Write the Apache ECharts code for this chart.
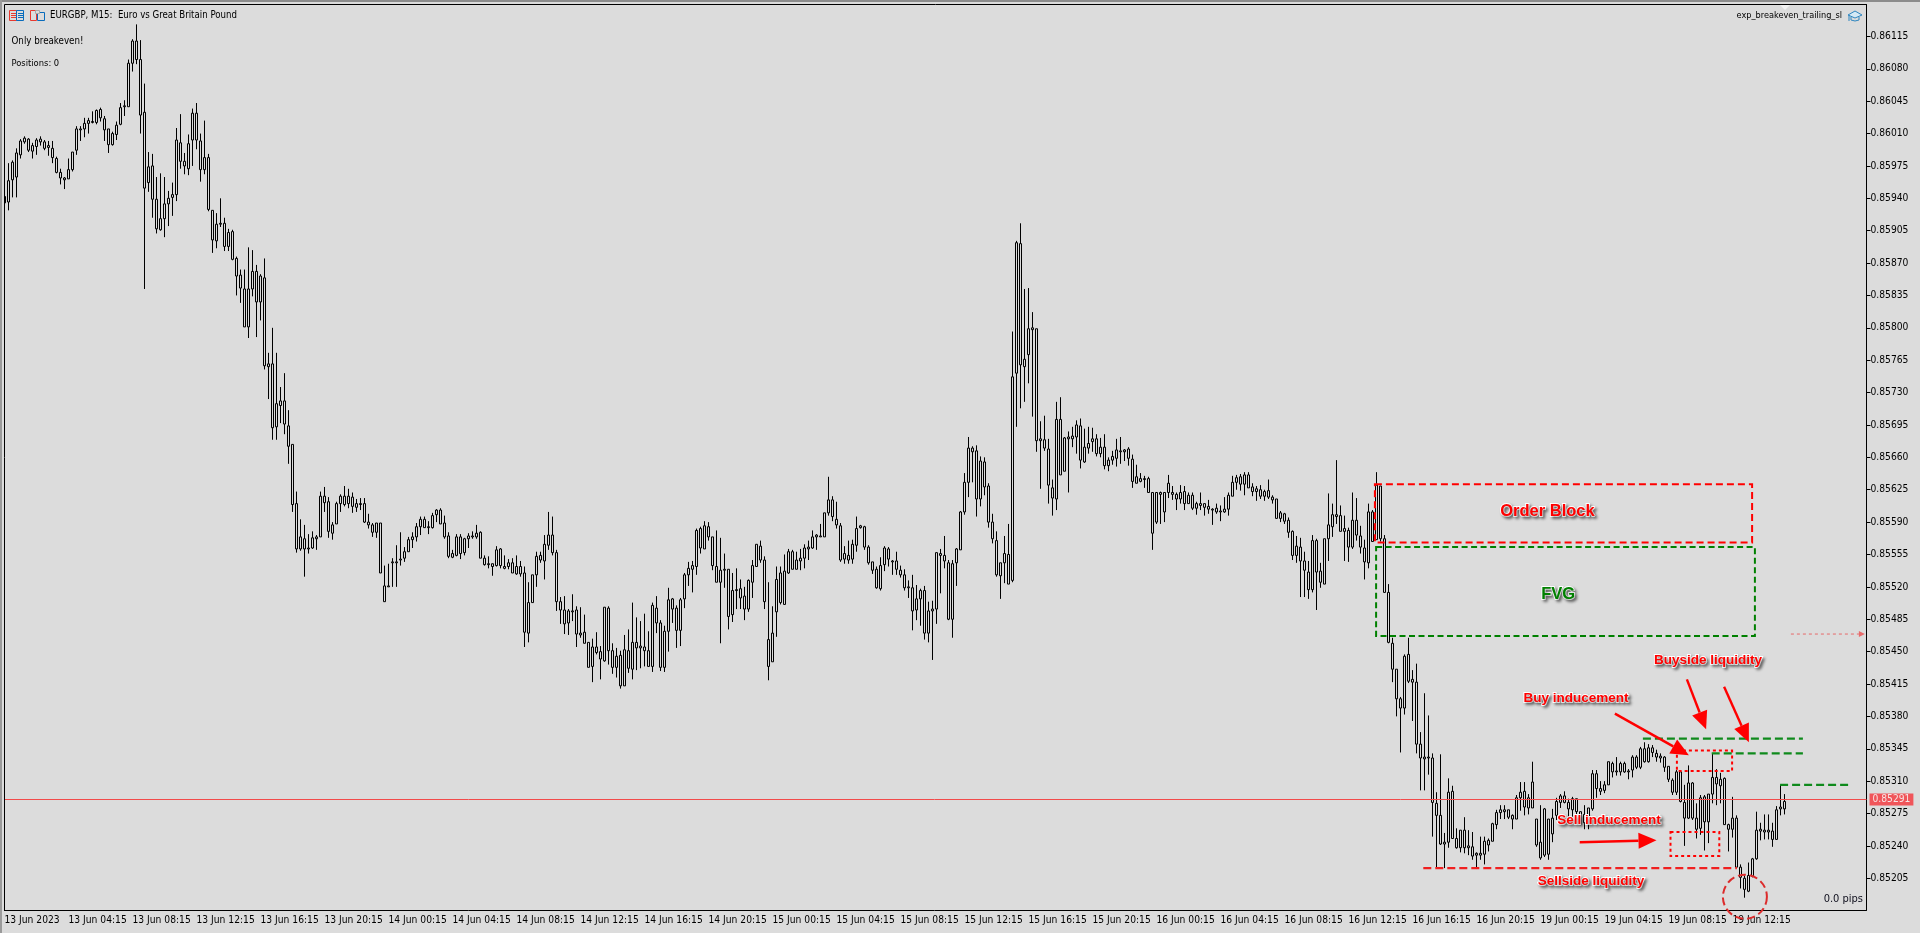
<!DOCTYPE html>
<html>
<head>
<meta charset="utf-8">
<title>EURGBP, M15</title>
<script src="https://cdn.jsdelivr.net/npm/echarts@6/dist/echarts.min.js"></script>
<style>
  html, body { margin: 0; padding: 0; background: #dcdcdc; }
  #chart { width: 1920px; height: 933px; }
</style>
</head>
<body>
<div id="chart"></div>
<script>
// prices are in points (1 point = 0.00001), one row per 16 bars (4 hours)
// every body is hollow in the picture, so only its top and bottom can be read
const highs = [
  85942,85978,85981,85994,86004,86007,86005,86000,86005,86007,86003,86002,86002,85985,85972,85963,
  85983,85990,86018,86018,86027,86027,86034,86036,86038,86029,86015,86012,86023,86043,86046,86090,
  86112,86128,86111,86064,85990,85988,85963,85967,85963,85948,85957,86016,86031,85989,86009,86037,
  86043,86010,86024,85988,85927,85924,85940,85919,85907,85906,85877,85863,85863,85887,85884,85868,
  85858,85875,85773,85800,85773,85736,85751,85711,85674,85623,85593,85587,85577,85580,85576,85623,
  85628,85617,85590,85612,85620,85629,85626,85622,85615,85616,85616,85599,85589,85589,85589,85543,
  85545,85551,85565,85579,85563,85574,85579,85589,85596,85596,85591,85600,85604,85605,85597,85579,
  85560,85577,85577,85573,85578,85580,85587,85580,85554,85553,85545,85564,85562,85554,85550,85551,
  85554,85548,85542,85525,85533,85558,85558,85576,85601,85596,85560,85509,85510,85496,85512,85499,
  85498,85490,85460,85464,85471,85456,85498,85499,85459,85454,85451,85468,85474,85503,85487,85483,
  85491,85472,85503,85510,85484,85478,85519,85508,85500,85508,85535,85547,85548,85583,85585,85591,
  85590,85574,85581,85573,85556,85539,85535,85540,85528,85520,85528,85549,85566,85570,85553,85525,
  85499,85542,85542,85555,85561,85560,85558,85561,85566,85570,85581,85577,85588,85600,85639,85618,
  85612,85589,85564,85570,85571,85596,85587,85586,85565,85547,85542,85552,85564,85563,85549,85558,
  85543,85539,85527,85533,85522,85518,85521,85504,85505,85557,85561,85575,85549,85549,85562,85602,
  85643,85682,85672,85673,85661,85660,85632,85599,85580,85546,85575,85588,85796,85894,85913,85842,
  85843,85817,85799,85699,85705,85680,85636,85720,85725,85682,85688,85693,85700,85702,85691,85693,
  85692,85685,85681,85685,85660,85667,85680,85682,85669,85671,85663,85652,85643,85640,85639,85622,
  85622,85623,85622,85641,85629,85622,85630,85629,85622,85622,85612,85622,85610,85614,85605,85610,
  85608,85617,85622,85640,85641,85642,85644,85644,85632,85629,85630,85625,85636,85619,85615,85602,
  85600,85595,85581,85575,85573,85558,85548,85576,85572,85546,85572,85621,85610,85657,85608,85597,
  85584,85622,85616,85586,85571,85610,85603,85644,85629,85576,85523,85465,85431,85401,85447,85465,
  85430,85437,85363,85405,85381,85340,85298,85339,85254,85313,85305,85259,85257,85271,85257,85255,
  85233,85250,85250,85248,85265,85279,85284,85284,85279,85274,85295,85309,85309,85296,85331,85269,
  85284,85281,85269,85280,85292,85296,85299,85291,85293,85291,85277,85284,85281,85322,85322,85310,
  85310,85331,85331,85336,85331,85331,85323,85338,85338,85347,85352,85350,85349,85344,85340,85337,
  85326,85313,85322,85322,85306,85327,85309,85286,85295,85295,85296,85340,85323,85319,85314,85264,
  85293,85273,85220,85208,85222,85227,85277,85265,85274,85274,85265,85283,85306,85296
];
const bodyHighs = [
  85942,85959,85979,85989,86002,86005,86004,85997,86003,86004,86001,85997,85994,85983,85968,85962,
  85971,85990,86015,86015,86021,86024,86023,86035,86036,86026,86015,86010,86019,86038,86040,86086,
  86110,86110,86090,86033,85974,85975,85939,85918,85934,85940,85944,86003,86000,85980,85999,86032,
  86032,86002,85984,85984,85927,85912,85913,85913,85903,85904,85875,85857,85842,85842,85861,85861,
  85856,85854,85761,85761,85718,85721,85721,85694,85674,85610,85574,85572,85562,85573,85574,85618,
  85618,85612,85587,85610,85618,85618,85618,85617,85610,85610,85610,85590,85587,85589,85589,85521,
  85521,85547,85547,85550,85558,85571,85574,85585,85593,85593,85585,85597,85603,85603,85589,85575,
  85556,85574,85574,85572,85575,85575,85578,85579,85551,85545,85545,85560,85561,85542,85546,85546,
  85542,85542,85535,85503,85533,85553,85554,85566,85576,85576,85557,85504,85495,85494,85494,85495,
  85470,85471,85460,85455,85455,85450,85498,85497,85451,85445,85446,85452,85451,85460,85460,85456,
  85455,85451,85500,85497,85481,85472,85506,85507,85497,85506,85533,85540,85543,85581,85583,85586,
  85585,85574,85542,85538,85539,85539,85516,85517,85518,85510,85527,85543,85566,85564,85549,85463,
  85470,85528,85535,85537,85558,85558,85549,85551,85562,85563,85574,85576,85575,85600,85614,85614,
  85593,85586,85556,85554,85566,85583,85586,85585,85563,85547,85539,85543,85562,85561,85548,85548,
  85538,85533,85520,85519,85507,85516,85516,85494,85496,85557,85556,85554,85546,85545,85561,85601,
  85633,85670,85670,85667,85656,85655,85629,85590,85570,85546,85556,85555,85747,85892,85891,85766,
  85799,85800,85799,85680,85679,85669,85627,85701,85701,85681,85682,85683,85695,85694,85671,85675,
  85680,85680,85671,85671,85657,85661,85668,85667,85668,85669,85658,85639,85637,85637,85637,85622,
  85622,85622,85622,85632,85622,85620,85622,85623,85619,85619,85610,85610,85610,85607,85604,85605,
  85602,85604,85619,85633,85638,85639,85641,85641,85628,85626,85625,85623,85624,85617,85615,85600,
  85599,85592,85580,85564,85563,85548,85536,85570,85570,85537,85572,85587,85598,85598,85597,85583,
  85581,85592,85592,85575,85562,85601,85601,85630,85629,85572,85514,85459,85431,85399,85445,85447,
  85420,85417,85350,85336,85336,85335,85286,85273,85244,85298,85299,85248,85257,85257,85240,85239,
  85232,85232,85245,85246,85264,85276,85279,85279,85279,85273,85292,85298,85299,85292,85309,85269,
  85244,85280,85269,85270,85288,85294,85294,85287,85291,85291,85277,85274,85281,85318,85318,85302,
  85306,85331,85329,85321,85329,85329,85321,85336,85336,85345,85345,85346,85346,85340,85337,85336,
  85326,85311,85320,85320,85287,85308,85308,85270,85292,85293,85296,85314,85314,85312,85313,85263,
  85270,85270,85217,85205,85208,85226,85257,85258,85257,85257,85256,85279,85282,85288
];
const bodyLows = [
  85935,85936,85960,85963,85987,86001,85992,85991,85996,86001,85994,85995,85984,85968,85962,85960,
  85961,85971,85992,86014,86015,86021,86022,86022,86027,86014,85998,85998,86009,86020,86039,86039,
  86086,86090,86030,85951,85957,85939,85907,85906,85918,85934,85941,85944,85980,85975,85972,86003,
  86003,85971,85971,85928,85895,85894,85912,85888,85888,85874,85856,85843,85801,85801,85842,85828,
  85828,85759,85758,85692,85693,85716,85696,85672,85609,85561,85561,85561,85561,85562,85572,85574,
  85611,85580,85578,85588,85610,85609,85610,85607,85606,85609,85590,85587,85579,85579,85535,85504,
  85520,85546,85546,85549,85551,85558,85571,85574,85585,85584,85584,85584,85598,85588,85574,85553,
  85552,85554,85556,85557,85572,85574,85574,85551,85544,85544,85542,85543,85543,85540,85542,85535,
  85534,85534,85471,85470,85503,85533,85549,85548,85565,85557,85504,85495,85480,85481,85493,85469,
  85468,85459,85433,85434,85449,85442,85440,85451,85433,85433,85413,85413,85432,85431,85454,85454,
  85451,85434,85434,85481,85433,85433,85472,85496,85473,85473,85507,85533,85539,85542,85562,85561,
  85574,85543,85525,85525,85538,85488,85490,85516,85508,85496,85496,85525,85542,85549,85504,85434,
  85439,85493,85503,85501,85535,85539,85539,85548,85551,85561,85562,85574,85574,85574,85600,85596,
  85587,85549,85550,85549,85550,85565,85584,85563,85546,85538,85519,85518,85544,85550,85547,85539,
  85533,85519,85519,85494,85495,85507,85470,85470,85494,85496,85554,85548,85485,85485,85546,85560,
  85601,85633,85666,85615,85615,85628,85590,85572,85533,85532,85546,85523,85527,85751,85760,85758,
  85771,85798,85678,85678,85670,85630,85616,85615,85641,85645,85680,85680,85682,85657,85655,85670,
  85677,85664,85664,85651,85651,85657,85659,85666,85666,85659,85634,85632,85634,85636,85622,85578,
  85590,85620,85601,85622,85620,85615,85615,85610,85610,85605,85605,85608,85606,85604,85603,85601,
  85601,85601,85604,85618,85633,85631,85631,85627,85623,85623,85618,85618,85617,85614,85594,85594,
  85591,85579,85554,85554,85548,85538,85517,85517,85536,85525,85523,85572,85585,85596,85580,85580,
  85563,85563,85576,85563,85547,85546,85569,85571,85572,85514,85460,85431,85399,85389,85389,85418,
  85417,85350,85335,85334,85335,85287,85273,85242,85242,85244,85248,85238,85238,85238,85238,85229,
  85230,85230,85231,85241,85245,85263,85276,85277,85271,85269,85269,85292,85282,85281,85281,85241,
  85227,85230,85231,85253,85273,85287,85287,85280,85279,85277,85263,85265,85268,85280,85302,85299,
  85300,85306,85320,85320,85320,85320,85320,85322,85325,85325,85331,85331,85341,85336,85335,85325,
  85312,85298,85298,85288,85270,85270,85270,85258,85259,85266,85266,85296,85307,85305,85263,85258,
  85258,85217,85206,85193,85191,85207,85226,85256,85255,85255,85247,85247,85280,85280
];
const lows = [
  85934,85927,85941,85941,85983,85999,85990,85983,85987,85997,85992,85986,85978,85967,85955,85950,
  85961,85969,85987,86002,86006,86010,86021,86020,86023,86002,85989,85997,86003,86019,86029,86039,
  86077,86085,86010,85842,85947,85919,85902,85905,85898,85910,85921,85937,85972,85966,85965,85975,
  85993,85958,85966,85926,85881,85886,85909,85883,85883,85873,85835,85827,85801,85789,85834,85790,
  85808,85755,85723,85679,85679,85697,85685,85653,85601,85557,85559,85531,85556,85561,85560,85574,
  85601,85573,85571,85588,85601,85607,85605,85600,85601,85603,85589,85583,85574,85573,85535,85504,
  85520,85520,85520,85543,85547,85558,85562,85569,85576,85584,85577,85583,85590,85588,85572,85551,
  85551,85553,85550,85554,85562,85572,85572,85551,85543,85540,85532,85542,85540,85539,85539,85535,
  85533,85531,85455,85460,85503,85520,85546,85528,85560,85554,85494,85480,85469,85468,85483,85455,
  85465,85459,85433,85417,85447,85420,85439,85436,85426,85422,85410,85413,85427,85420,85430,85432,
  85434,85434,85428,85470,85429,85428,85450,85481,85454,85456,85497,85521,85514,85533,85556,85561,
  85570,85538,85525,85459,85519,85474,85482,85496,85496,85484,85493,85508,85542,85546,85496,85419,
  85439,85466,85501,85501,85534,85539,85539,85538,85540,85549,85561,85560,85574,85574,85597,85591,
  85583,85547,85545,85545,85545,85558,85583,85560,85544,85534,85518,85516,85537,85542,85533,85533,
  85530,85516,85508,85473,85484,85478,85463,85460,85441,85480,85513,85540,85484,85465,85521,85560,
  85598,85617,85633,85596,85607,85619,85584,85567,85531,85507,85524,85523,85525,85693,85713,85720,
  85740,85704,85666,85626,85667,85610,85597,85603,85641,85645,85622,85671,85664,85648,85654,85664,
  85666,85661,85660,85647,85645,85652,85650,85653,85656,85651,85627,85632,85633,85627,85622,85560,
  85588,85588,85590,85616,85614,85603,85610,85603,85610,85603,85598,85603,85597,85599,85587,85599,
  85591,85600,85597,85618,85625,85624,85619,85627,85618,85613,85615,85613,85615,85610,85594,85590,
  85588,85573,85549,85546,85509,85509,85507,85514,85495,85519,85523,85548,85574,85588,85580,85548,
  85547,85561,85570,85556,85528,85540,85569,85571,85569,85514,85459,85417,85380,85341,85382,85416,
  85375,85340,85300,85300,85317,85250,85217,85241,85216,85238,85248,85237,85233,85232,85230,85225,
  85215,85225,85220,85234,85245,85258,85269,85269,85269,85258,85269,85278,85273,85274,85281,85239,
  85225,85228,85225,85244,85268,85281,85286,85270,85269,85269,85263,85258,85258,85278,85292,85295,
  85297,85306,85314,85316,85316,85319,85312,85314,85323,85323,85330,85330,85336,85331,85330,85320,
  85309,85295,85295,85287,85240,85269,85268,85248,85252,85235,85243,85286,85284,85286,85263,85234,
  85249,85217,85194,85184,85190,85206,85225,85246,85247,85247,85239,85247,85273,85274
];

// one label every 16 bars
const timeLabels = [
  '13 Jun 2023', '13 Jun 04:15', '13 Jun 08:15', '13 Jun 12:15', '13 Jun 16:15', '13 Jun 20:15',
  '14 Jun 00:15', '14 Jun 04:15', '14 Jun 08:15', '14 Jun 12:15', '14 Jun 16:15', '14 Jun 20:15',
  '15 Jun 00:15', '15 Jun 04:15', '15 Jun 08:15', '15 Jun 12:15', '15 Jun 16:15', '15 Jun 20:15',
  '16 Jun 00:15', '16 Jun 04:15', '16 Jun 08:15', '16 Jun 12:15', '16 Jun 16:15', '16 Jun 20:15',
  '19 Jun 00:15', '19 Jun 04:15', '19 Jun 08:15', '19 Jun 12:15'
];
const priceTicks = [
  0.86115, 0.86080, 0.86045, 0.86010, 0.85975, 0.85940, 0.85905, 0.85870, 0.85835,
  0.85800, 0.85765, 0.85730, 0.85695, 0.85660, 0.85625, 0.85590, 0.85555, 0.85520,
  0.85485, 0.85450, 0.85415, 0.85380, 0.85345, 0.85310, 0.85275, 0.85240, 0.85205
];
// the terminal leaves this many empty bars right of the last candle
const emptyBars = 20;

// drawn annotations, as [bar from, bar to, price top, price bottom] in points
const redBoxes = [[342.6, 436.9, 85631, 85568]];
const greenBoxes = [[342.9, 437.6, 85563, 85467]];
const dottedBoxes = [[418.1, 431.9, 85343, 85321], [416.5, 428.7, 85255, 85229]];
// [bar from, bar to, price]
const lastPriceLine = [[-0.5, 465.5, 85291]];
const redLevels = [[354.7, 433.1, 85216]];
const greenLevels = [[409.6, 449.6, 85356], [426.8, 449.6, 85340], [443.9, 461.8, 85306]];
// [bar from, price from, bar to, price to]
const arrows = [
  [402.6, 85383, 421.1, 85338],
  [420.6, 85420, 425.4, 85366],
  [429.9, 85412, 436.1, 85352],
  [393.8, 85244, 413.0, 85246]
];
const thinArrows = [[446.6, 85469, 465.1, 85469]];
const circles = [[435.1, 85185]];
const noteTexts = ['Order Block', 'FVG', 'Buyside liquidity', 'Buy inducement', 'Sell inducement', 'Sellside liquidity'];
const noteBars = [385.75, 388.4, 425.9, 392.9, 401.1, 396.6];
const notePrices = [85601, 85512, 85441, 85400, 85268, 85202];

const BG = '#dcdcdc';
const UI_FONT = '"DejaVu Sans Condensed", "DejaVu Sans", sans-serif';

const categories = [];
for (let i = 0; i < highs.length + emptyBars; i++) {
  categories.push(i % 16 === 0 && timeLabels[i / 16] ? timeLabels[i / 16] : '');
}
const candles = highs.map(function (h, i) {
  return [bodyLows[i] / 1e5, bodyHighs[i] / 1e5, lows[i] / 1e5, h / 1e5];
});

function renderBox(color, dash) {
  return function (params, api) {
    const a = api.coord([api.value(0), api.value(2) / 1e5]);
    const b = api.coord([api.value(1), api.value(3) / 1e5]);
    return {
      type: 'rect',
      shape: { x: a[0], y: a[1], width: b[0] - a[0], height: b[1] - a[1] },
      style: { fill: 'none', stroke: color, lineWidth: 2, lineDash: dash }
    };
  };
}

function renderLevel(color) {
  return function (params, api) {
    const a = api.coord([api.value(0), api.value(2) / 1e5]);
    const b = api.coord([api.value(1), api.value(2) / 1e5]);
    return {
      type: 'line',
      shape: { x1: a[0], y1: a[1], x2: b[0], y2: b[1] },
      style: { stroke: color, lineWidth: 2.4, lineDash: [8, 4] }
    };
  };
}

function renderLastPrice(params, api) {
  const a = api.coord([api.value(0), api.value(2) / 1e5]);
  const b = api.coord([api.value(1), api.value(2) / 1e5]);
  const y = Math.round(a[1]) + 0.5;
  return {
    type: 'group',
    children: [{
      type: 'line',
      shape: { x1: a[0], y1: y, x2: b[0], y2: y },
      style: { stroke: '#f24b4b', lineWidth: 1 }
    }, {
      type: 'text',
      style: {
        text: (api.value(2) / 1e5).toFixed(5),
        x: b[0] + 3,
        y: y,
        verticalAlign: 'middle',
        font: '10.2px ' + UI_FONT,
        fill: '#f7e4e4',
        backgroundColor: '#f0555a',
        padding: [1, 3, 1, 3]
      }
    }]
  };
}

function renderArrow(color, width, dash, headLen, headHalf) {
  return function (params, api) {
    const a = api.coord([api.value(0), api.value(1) / 1e5]);
    const b = api.coord([api.value(2), api.value(3) / 1e5]);
    const len = Math.hypot(b[0] - a[0], b[1] - a[1]);
    const ux = (b[0] - a[0]) / len;
    const uy = (b[1] - a[1]) / len;
    const bx = b[0] - ux * headLen;
    const by = b[1] - uy * headLen;
    return {
      type: 'group',
      children: [{
        type: 'line',
        shape: { x1: a[0], y1: a[1], x2: bx, y2: by },
        style: { stroke: color, lineWidth: width, lineDash: dash }
      }, {
        type: 'polygon',
        shape: { points: [b, [bx - uy * headHalf, by + ux * headHalf], [bx + uy * headHalf, by - ux * headHalf]] },
        style: { fill: color }
      }]
    };
  };
}

function renderCircle(params, api) {
  const c = api.coord([api.value(0), api.value(1) / 1e5]);
  return {
    type: 'circle',
    shape: { cx: c[0], cy: c[1], r: 22 },
    style: { fill: 'none', stroke: '#dc2b2b', lineWidth: 2, lineDash: [8, 4] }
  };
}

function renderNote(params, api) {
  const c = api.coord([api.value(0), api.value(1) / 1e5]);
  const text = noteTexts[params.dataIndex];
  const big = text === 'Order Block' || text === 'FVG';
  return {
    type: 'text',
    style: {
      text: text,
      x: c[0],
      y: c[1],
      align: 'center',
      verticalAlign: 'middle',
      font: 'bold ' + (big ? '16.5px' : '13.5px') + ' "Liberation Sans", sans-serif',
      fill: text === 'FVG' ? '#008000' : '#ff0000',
      stroke: '#ffffff',
      lineWidth: 2,
      textShadowColor: 'rgba(0,0,0,0.4)',
      textShadowBlur: 3,
      textShadowOffsetX: 2,
      textShadowOffsetY: 2
    }
  };
}

function overlay(renderItem, data, dims) {
  return {
    type: 'custom',
    xAxisIndex: 1,
    yAxisIndex: 0,
    z: 10,
    silent: true,
    renderItem: renderItem,
    encode: dims,
    data: data
  };
}

const chart = echarts.init(document.getElementById('chart'), null, { renderer: 'canvas' });

chart.setOption({
  animation: false,
  backgroundColor: BG,
  textStyle: { fontFamily: UI_FONT },
  grid: { left: 2.5, top: 4.5, width: 1864, height: 905.5, containLabel: false },
  xAxis: [{
    type: 'category',
    data: categories,
    boundaryGap: true,
    axisLine: { onZero: false, lineStyle: { color: '#000', width: 1 } },
    axisTick: {
      length: 4,
      alignWithLabel: true,
      interval: function (i) { return i % 16 === 0; },
      lineStyle: { color: '#000' }
    },
    axisLabel: {
      interval: function (i) { return i % 16 === 0; },
      align: 'left',
      margin: 5,
      fontSize: 10.2,
      color: '#000',
      fontFamily: UI_FONT
    },
    splitLine: { show: false }
  }, {
    type: 'value',
    min: -0.5,
    max: 465.5,
    show: false
  }],
  yAxis: [{
    type: 'value',
    position: 'right',
    min: 0.851707,
    max: 0.861495,
    scale: true,
    axisLine: { show: true, onZero: false, lineStyle: { color: '#000', width: 1 } },
    axisTick: { show: true, length: 4, customValues: priceTicks, lineStyle: { color: '#000' } },
    axisLabel: {
      customValues: priceTicks,
      margin: 4,
      fontSize: 10.2,
      color: '#000',
      fontFamily: UI_FONT,
      formatter: function (v) { return v.toFixed(5); }
    },
    splitLine: { show: false }
  }],
  series: [{
    type: 'candlestick',
    data: candles,
    barWidth: 2,
    progressive: 0,
    itemStyle: {
      color: BG,
      color0: BG,
      borderColor: '#000',
      borderColor0: '#000',
      borderColorDoji: '#000',
      borderWidth: 1
    }
  },
  overlay(renderLastPrice, lastPriceLine, { x: [0, 1], y: 2 }),
  overlay(renderBox('#ff0000', [7, 4]), redBoxes, { x: [0, 1], y: [2, 3] }),
  overlay(renderBox('#008000', [6, 3.5]), greenBoxes, { x: [0, 1], y: [2, 3] }),
  overlay(renderBox('#ff0000', [3, 3]), dottedBoxes, { x: [0, 1], y: [2, 3] }),
  overlay(renderLevel('#f02020'), redLevels, { x: [0, 1], y: 2 }),
  overlay(renderLevel('#0f8a1c'), greenLevels, { x: [0, 1], y: 2 }),
  overlay(renderArrow('#ff0000', 2.4, null, 18, 8), arrows, { x: [0, 2], y: [1, 3] }),
  overlay(renderArrow('#e86a6a', 1, [3, 3], 6, 3), thinArrows, { x: [0, 2], y: [1, 3] }),
  overlay(renderCircle, circles, { x: 0, y: 1 }),
  overlay(renderNote, noteBars.map(function (b, i) { return [b, notePrices[i]]; }), { x: 0, y: 1 })
  ],
  graphic: [
    // window edge and the chart's top and left frame
    { type: 'rect', z: 100, shape: { x: 0, y: 0, width: 4, height: 933 }, style: { fill: BG } },
    { type: 'rect', z: 101, shape: { x: 0, y: 0, width: 1920, height: 2 }, style: { fill: '#8c8c8c' } },
    { type: 'rect', z: 101, shape: { x: 0, y: 0, width: 2, height: 933 }, style: { fill: '#9a9a9a' } },
    { type: 'line', z: 102, shape: { x1: 4.5, y1: 4.5, x2: 4.5, y2: 910.5 }, style: { stroke: '#000', lineWidth: 1 } },
    { type: 'line', z: 102, shape: { x1: 4.5, y1: 4.5, x2: 1866.5, y2: 4.5 }, style: { stroke: '#000', lineWidth: 1 } },
    // small triangle on the top frame
    { type: 'polygon', z: 103, shape: { points: [[1780, 5], [1790, 5], [1785, 10]] }, style: { fill: '#f2f2f2' } },
    // window icons
    { type: 'rect', z: 103, shape: { x: 9.5, y: 10.5, width: 7, height: 10 }, style: { fill: 'none', stroke: '#e8392f' } },
    { type: 'rect', z: 103, shape: { x: 16.5, y: 10.5, width: 7, height: 10 }, style: { fill: 'none', stroke: '#0a6cbc' } },
    { type: 'line', z: 103, shape: { x1: 11, y1: 13.5, x2: 16, y2: 13.5 }, style: { stroke: '#e8392f' } },
    { type: 'line', z: 103, shape: { x1: 11, y1: 15.5, x2: 16, y2: 15.5 }, style: { stroke: '#e8392f' } },
    { type: 'line', z: 103, shape: { x1: 11, y1: 17.5, x2: 16, y2: 17.5 }, style: { stroke: '#e8392f' } },
    { type: 'line', z: 103, shape: { x1: 18, y1: 13.5, x2: 23, y2: 13.5 }, style: { stroke: '#0a6cbc' } },
    { type: 'line', z: 103, shape: { x1: 18, y1: 15.5, x2: 23, y2: 15.5 }, style: { stroke: '#0a6cbc' } },
    { type: 'line', z: 103, shape: { x1: 18, y1: 17.5, x2: 23, y2: 17.5 }, style: { stroke: '#0a6cbc' } },
    { type: 'rect', z: 103, shape: { x: 30.5, y: 10.5, width: 6, height: 10 }, style: { fill: 'none', stroke: '#e8392f' } },
    { type: 'rect', z: 103, shape: { x: 37.5, y: 12.5, width: 7, height: 8 }, style: { fill: 'none', stroke: '#0a6cbc' } },
    { type: 'rect', z: 104, shape: { x: 35.5, y: 10.5, width: 4, height: 3 }, style: { fill: BG, stroke: '#a8a8a8' } },
    // expert advisor cap
    { type: 'polygon', z: 103, shape: { points: [[1848, 15], [1855, 11], [1862, 15], [1855, 18]] }, style: { fill: '#d5e9f5', stroke: '#2f86c0' } },
    { type: 'polyline', z: 103, shape: { points: [[1851, 17], [1851, 20], [1855, 21], [1859, 20], [1859, 17]] }, style: { fill: 'none', stroke: '#2f86c0' } },
    { type: 'line', z: 103, shape: { x1: 1849, y1: 15, x2: 1849, y2: 21 }, style: { stroke: '#2f86c0' } },
    // chart captions
    { type: 'text', z: 105, style: { text: 'EURGBP, M15:  Euro vs Great Britain Pound', x: 50, y: 15.5, verticalAlign: 'middle', font: '9.6px ' + UI_FONT, fill: '#000' } },
    { type: 'text', z: 105, style: { text: 'Only breakeven!', x: 11.5, y: 41.5, verticalAlign: 'middle', font: '9.7px ' + UI_FONT, fill: '#000' } },
    { type: 'text', z: 105, style: { text: 'Positions: 0', x: 11.5, y: 63.5, verticalAlign: 'middle', font: '9.3px ' + UI_FONT, fill: '#000' } },
    { type: 'text', z: 105, style: { text: 'exp_breakeven_trailing_sl', x: 1842, y: 16, align: 'right', verticalAlign: 'middle', font: '9.1px ' + UI_FONT, fill: '#000' } },
    { type: 'text', z: 105, style: { text: '0.0 pips', x: 1863, y: 899, align: 'right', verticalAlign: 'middle', font: '11px ' + UI_FONT, fill: '#10101e' } }
  ]
});
</script>
</body>
</html>
